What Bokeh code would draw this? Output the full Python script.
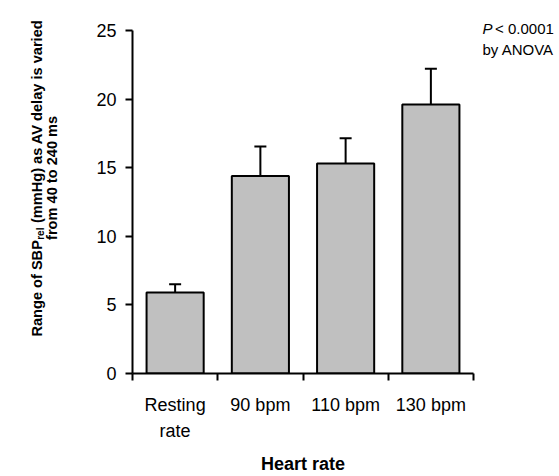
from math import pi

from bokeh.plotting import figure
from bokeh.layouts import row
from bokeh.models import Range1d, Whisker, ColumnDataSource, FixedTicker, TeeHead
from bokeh.core.properties import value
from bokeh.embed import file_html
from bokeh.resources import INLINE

# ---- data ----
categories = ["Resting\nrate", "90 bpm", "110 bpm", "130 bpm"]
means = [5.9, 14.4, 15.3, 19.6]
sem = [0.6, 2.15, 1.85, 2.6]
y_ticks = [0, 5, 10, 15, 20, 25]
y_label_line1 = ["Range of SBP", "rel", " (mmHg) as AV delay is varied"]
y_label_line2 = "from 40 to 240 ms"
x_label = "Heart rate"
stat_text = ["P", " < 0.0001", "by ANOVA"]

FONT = "Liberation Sans, Arial, sans-serif"
H = 476

# Arial / Liberation Sans advance widths (per 1000 em) used to place text pieces
BOLD_W = {" ": 278, "(": 333, ")": 333, "A": 722, "B": 722, "H": 722, "P": 667, "R": 722,
          "S": 667, "V": 667, "a": 556, "d": 611, "e": 556, "f": 333, "g": 611, "i": 278,
          "l": 278, "m": 889, "n": 611, "o": 611, "r": 389, "s": 556, "v": 556, "y": 556,
          "t": 333}
REG_W = {" ": 278, "P": 667, "<": 584, ".": 278}


def text_width(text, table, size):
    return sum(table.get(c, 556) for c in text) * size / 1000.0


def lead(text, table, size):
    """width of leading spaces (SVG drops them) and the stripped text"""
    stripped = text.lstrip(" ")
    return text_width(text[:len(text) - len(stripped)], table, size), stripped


def side_fig(w):
    f = figure(width=w, height=H, output_backend="svg", toolbar_location=None,
               x_range=Range1d(0, w), y_range=Range1d(102, H),
               x_axis_location=None, y_axis_location=None,
               min_border_left=0, min_border_right=0, min_border_top=0, min_border_bottom=102)
    f.outline_line_color = None
    f.xgrid.visible = False
    f.ygrid.visible = False
    return f


# ---- main chart ----
xs = [i + 0.5 for i in range(len(categories))]
src = ColumnDataSource(dict(x=xs, top=means, upper=[m + e for m, e in zip(means, sem)]))

LEFT_W = 60
MAIN_W = 415
units_per_px = 25 / 344.0
p = figure(width=MAIN_W, height=H, output_backend="svg", toolbar_location=None,
           x_range=Range1d(0, len(categories)), y_range=Range1d(0, 25 + 30 * units_per_px),
           min_border_left=132 - LEFT_W, min_border_right=2, min_border_top=0, min_border_bottom=102)
p.outline_line_color = None
p.xgrid.visible = False
p.ygrid.visible = False

p.vbar(x="x", top="top", bottom=0, width=0.67, source=src,
       fill_color="#c0c0c0", line_color="black", line_width=2)
p.add_layout(Whisker(base="x", lower="top", upper="upper", source=src,
                     line_color="black", line_width=2,
                     upper_head=TeeHead(size=12, line_width=2, line_color="black"),
                     lower_head=None))

xa = p.xaxis[0]
xa.ticker = FixedTicker(ticks=xs, minor_ticks=list(range(len(categories) + 1)))
xa.major_label_overrides = {x: c for x, c in zip(xs, categories)}
xa.major_tick_out = 0
xa.major_tick_in = 0
xa.minor_tick_out = 7
xa.minor_tick_in = 0
xa.minor_tick_line_width = 2
xa.minor_tick_line_color = "black"
xa.axis_line_width = 2
xa.axis_line_color = "black"
xa.major_label_text_font = FONT
xa.major_label_text_font_size = "18px"
xa.major_label_text_color = "black"
xa.major_label_text_line_height = 1.3
xa.major_label_standoff = 14
xa.axis_label = x_label
xa.axis_label_text_font = FONT
xa.axis_label_text_font_style = "bold"
xa.axis_label_text_font_size = "18px"
xa.axis_label_text_color = "black"
xa.axis_label_standoff = 10

ya = p.yaxis[0]
ya.bounds = (0, 25)
ya.ticker = FixedTicker(ticks=y_ticks, minor_ticks=[])
ya.major_tick_out = 7
ya.major_tick_in = 0
ya.major_tick_line_width = 2
ya.axis_line_width = 2
ya.axis_line_color = "black"
ya.major_label_text_font = FONT
ya.major_label_text_font_size = "18px"
ya.major_label_text_color = "black"
ya.major_label_standoff = 9

# ---- y axis title (rotated, with subscript) ----
pl = side_fig(LEFT_W)
ysz = 14.6
subsz = 10
base1 = 36
base2 = 51
start_y = H - 337
w1 = text_width(y_label_line1[0], BOLD_W, ysz)
w2 = text_width(y_label_line1[1], BOLD_W, subsz)
l3, t3 = lead(y_label_line1[2], BOLD_W, ysz)
w3 = text_width(t3, BOLD_W, ysz)
common = dict(angle=pi / 2, text_font=value(FONT), text_font_style="bold",
              text_align="left", text_baseline="alphabetic", text_color="black")
pl.text(x=[base1], y=[start_y], text=[y_label_line1[0]], text_font_size=f"{ysz}px", **common)
pl.text(x=[base1 + 3.5], y=[start_y + w1 + 0.5], text=[y_label_line1[1]],
        text_font_size=f"{subsz}px", **common)
y3 = start_y + w1 + w2 + 1 + l3
pl.text(x=[base1], y=[y3], text=[t3], text_font_size=f"{ysz}px", **common)
mid_y = (start_y + y3 + w3) / 2
pl.text(x=[base2], y=[mid_y], text=[y_label_line2], text_font_size=f"{ysz}px",
        angle=pi / 2, text_font=value(FONT), text_font_style="bold",
        text_align="center", text_baseline="alphabetic", text_color="black")

# ---- statistics note (top right) ----
RIGHT_W = 559 - LEFT_W - MAIN_W
pr = side_fig(RIGHT_W)
ssz = 15
sx = 482 - (LEFT_W + MAIN_W)
wp = text_width(stat_text[0], REG_W, ssz)
l2, t2 = lead(stat_text[1], REG_W, ssz)
sc = dict(text_font=value(FONT), text_font_size=f"{ssz}px", text_align="left",
          text_baseline="alphabetic", text_color="black")
pr.text(x=[sx], y=[H - 28], text=[stat_text[0]], text_font_style="italic", **sc)
pr.text(x=[sx + wp + l2 * 0.6], y=[H - 28], text=[t2], **sc)
pr.text(x=[sx], y=[H - 49], text=[stat_text[2]], **sc)

layout = row(pl, p, pr, spacing=0)
open("out.html", "w").write(file_html(layout, INLINE))
